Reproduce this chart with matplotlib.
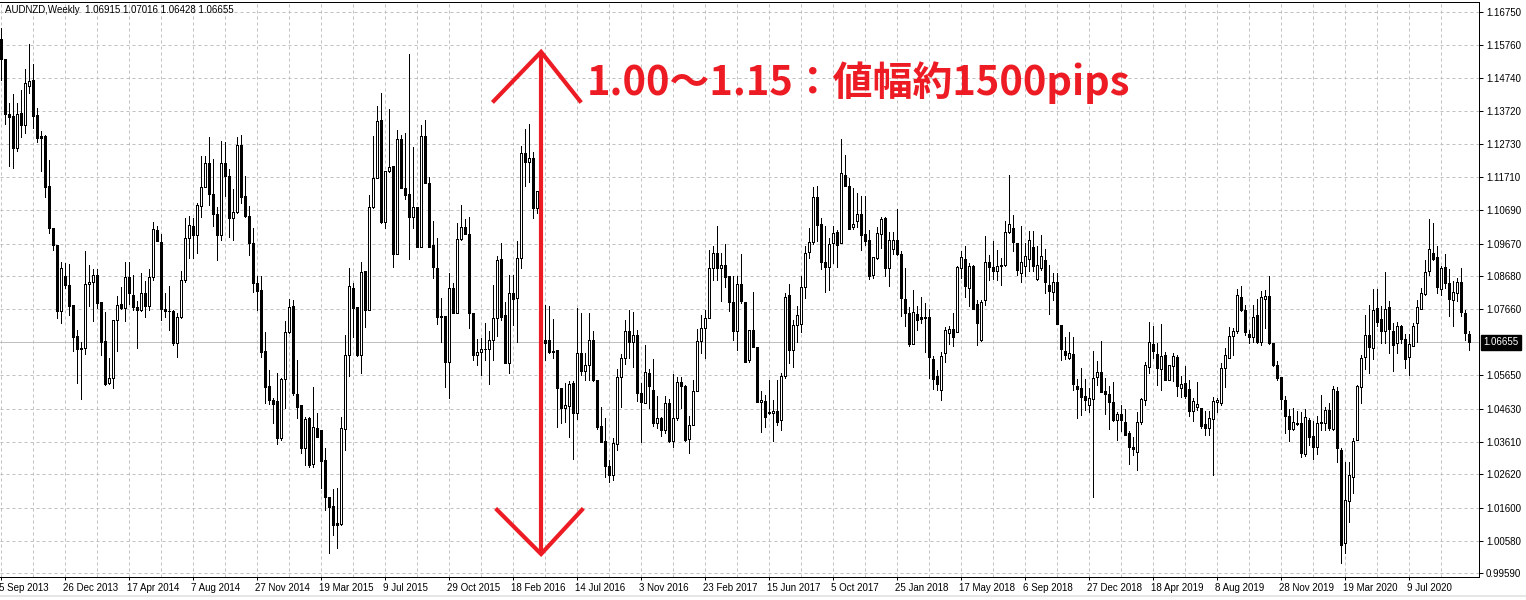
import matplotlib
matplotlib.use("Agg")
import matplotlib.pyplot as plt
import matplotlib.transforms as mtransforms
import matplotlib.patches as mpatches
import numpy as np

plt.rcParams['font.family'] = ['Liberation Sans', 'DejaVu Sans']

# --- Weekly AUDNZD candles, one value per week ---
opens = [
    1.1594, 1.1532, 1.1363, 1.1358, 1.1259, 1.1366, 1.1329, 1.1451, 1.1468, 1.1361,
    1.1297, 1.1297, 1.1144, 1.1015, 1.0964, 1.0760, 1.0869, 1.0841, 1.0780, 1.0685,
    1.0647, 1.0647, 1.0843, 1.0849, 1.0872, 1.0790, 1.0670, 1.0540, 1.0556, 1.0734,
    1.0783, 1.0770, 1.0864, 1.0811, 1.0775, 1.0765, 1.0816, 1.0778, 1.0865, 1.1009,
    1.0971, 1.0767, 1.0762, 1.0762, 1.0663, 1.0742, 1.0856, 1.0984, 1.1020, 1.0994,
    1.1083, 1.1142, 1.1215, 1.1118, 1.1057, 1.0994, 1.1213, 1.1175, 1.1045, 1.1063,
    1.1270, 1.1113, 1.1053, 1.0969, 1.0846, 1.0826, 1.0639, 1.0532, 1.0489, 1.0486,
    1.0372, 1.0552, 1.0696, 1.0777, 1.0509, 1.0474, 1.0341, 1.0433, 1.0292, 1.0405,
    1.0397, 1.0305, 1.0193, 1.0165, 1.0112, 1.0109, 1.0399, 1.0627, 1.0833, 1.0775,
    1.0627, 1.0884, 1.0764, 1.1079, 1.1167, 1.1346, 1.1033, 1.1190, 1.1205, 1.0935,
    1.1287, 1.1139, 1.1118, 1.1050, 1.1081, 1.0958, 1.1297, 1.1154, 1.0963, 1.0894,
    1.0746, 1.0746, 1.0606, 1.0831, 1.0754, 1.0981, 1.1017, 1.0997, 1.0754, 1.0627,
    1.0637, 1.0644, 1.0644, 1.0673, 1.0739, 1.0919, 1.0749, 1.0603, 1.0817, 1.0800,
    1.0923, 1.1244, 1.1218, 1.1229, 1.1076, 1.1127, 1.0673, 1.0673, 1.0639, 1.0642,
    1.0527, 1.0464, 1.0471, 1.0540, 1.0448, 1.0632, 1.0579, 1.0596, 1.0673, 1.0551,
    1.0410, 1.0364, 1.0286, 1.0260, 1.0354, 1.0559, 1.0617, 1.0701, 1.0668, 1.0689,
    1.0510, 1.0480, 1.0571, 1.0520, 1.0418, 1.0434, 1.0396, 1.0480, 1.0365, 1.0434,
    1.0544, 1.0531, 1.0369, 1.0413, 1.0517, 1.0669, 1.0709, 1.0740, 1.0893, 1.0939,
    1.0893, 1.0903, 1.0867, 1.0788, 1.0699, 1.0844, 1.0789, 1.0612, 1.0704, 1.0651,
    1.0482, 1.0485, 1.0452, 1.0449, 1.0456, 1.0427, 1.0563, 1.0811, 1.0641, 1.0719,
    1.0721, 1.0835, 1.0941, 1.0971, 1.1110, 1.1027, 1.0910, 1.0896, 1.0969, 1.1002,
    1.0969, 1.1176, 1.1145, 1.1018, 1.1036, 1.1058, 1.0997, 1.0979, 1.0870, 1.0925,
    1.0998, 1.1046, 1.0893, 1.0951, 1.0978, 1.0937, 1.0799, 1.0755, 1.0661, 1.0753,
    1.0742, 1.0742, 1.0742, 1.0616, 1.0562, 1.0519, 1.0633, 1.0694, 1.0707, 1.0697,
    1.0893, 1.0919, 1.0832, 1.0900, 1.0784, 1.0674, 1.0794, 1.0911, 1.0895, 1.0885,
    1.0899, 1.0901, 1.1003, 1.1016, 1.0968, 1.0878, 1.0898, 1.0921, 1.0957, 1.0860,
    1.0893, 1.0917, 1.0842, 1.0820, 1.0850, 1.0718, 1.0638, 1.0618, 1.0631, 1.0533,
    1.0526, 1.0501, 1.0475, 1.0492, 1.0560, 1.0575, 1.0518, 1.0508, 1.0483, 1.0429,
    1.0446, 1.0422, 1.0388, 1.0344, 1.0330, 1.0421, 1.0490, 1.0590, 1.0659, 1.0631,
    1.0584, 1.0626, 1.0551, 1.0592, 1.0621, 1.0526, 1.0541, 1.0523, 1.0454, 1.0467,
    1.0464, 1.0416, 1.0403, 1.0431, 1.0482, 1.0481, 1.0587, 1.0617, 1.0685, 1.0701,
    1.0804, 1.0765, 1.0691, 1.0683, 1.0750, 1.0668, 1.0798, 1.0808, 1.0665, 1.0597,
    1.0558, 1.0490, 1.0441, 1.0400, 1.0420, 1.0420, 1.0324, 1.0428, 1.0379, 1.0344,
    1.0418, 1.0418, 1.0459, 1.0400, 1.0517, 1.0337, 1.0051, 1.0179, 1.0253, 1.0367,
    1.0528, 1.0620, 1.0688, 1.0648, 1.0770, 1.0736, 1.0699, 1.0773, 1.0699, 1.0663,
    1.0716, 1.0675, 1.0622, 1.0655, 1.0724, 1.0767, 1.0814, 1.0885, 1.0940, 1.0926,
    1.0829, 1.0896, 1.0847, 1.0796, 1.0816, 1.0849, 1.0755, 1.06915,
]
highs = [
    1.1627, 1.1532, 1.1397, 1.1426, 1.1397, 1.1438, 1.1501, 1.1579, 1.1517, 1.1382,
    1.1312, 1.1300, 1.1224, 1.1015, 1.0964, 1.0911, 1.0907, 1.0905, 1.0780, 1.0703,
    1.0668, 1.0945, 1.0902, 1.0889, 1.0889, 1.0790, 1.0758, 1.0617, 1.0734, 1.0807,
    1.0836, 1.0911, 1.0911, 1.0870, 1.0792, 1.0879, 1.0853, 1.0889, 1.1034, 1.1022,
    1.0996, 1.0816, 1.0838, 1.0765, 1.0754, 1.0885, 1.1047, 1.1052, 1.1047, 1.1093,
    1.1236, 1.1234, 1.1293, 1.1226, 1.1079, 1.1280, 1.1277, 1.1195, 1.1134, 1.1295,
    1.1299, 1.1175, 1.1083, 1.1015, 1.0869, 1.0867, 1.0696, 1.0581, 1.0494, 1.0571,
    1.0556, 1.0731, 1.0797, 1.0795, 1.0611, 1.0474, 1.0438, 1.0438, 1.0530, 1.0450,
    1.0397, 1.0341, 1.0193, 1.0216, 1.0219, 1.0438, 1.0688, 1.0892, 1.0848, 1.0775,
    1.0912, 1.0884, 1.1116, 1.1297, 1.1389, 1.1427, 1.1190, 1.1378, 1.1205, 1.1315,
    1.1300, 1.1305, 1.1548, 1.1264, 1.1081, 1.1330, 1.1346, 1.1172, 1.1038, 1.0986,
    1.0800, 1.0746, 1.0879, 1.0848, 1.1030, 1.1086, 1.1042, 1.1048, 1.0754, 1.0675,
    1.0680, 1.0726, 1.0700, 1.0841, 1.0930, 1.0970, 1.0790, 1.0870, 1.0870, 1.0974,
    1.1266, 1.1317, 1.1334, 1.1249, 1.1127, 1.1137, 1.0780, 1.0777, 1.0736, 1.0642,
    1.0527, 1.0540, 1.0547, 1.0547, 1.0770, 1.0754, 1.0632, 1.0754, 1.0701, 1.0551,
    1.0467, 1.0434, 1.0306, 1.0373, 1.0584, 1.0631, 1.0735, 1.0765, 1.0757, 1.0702,
    1.0541, 1.0658, 1.0584, 1.0614, 1.0502, 1.0437, 1.0502, 1.0492, 1.0569, 1.0561,
    1.0559, 1.0536, 1.0439, 1.0551, 1.0706, 1.0750, 1.0765, 1.0949, 1.0961, 1.1020,
    1.0939, 1.0967, 1.0867, 1.0867, 1.0867, 1.0936, 1.0789, 1.0704, 1.0819, 1.0651,
    1.0518, 1.0505, 1.0551, 1.0488, 1.0551, 1.0573, 1.0816, 1.0844, 1.0735, 1.0778,
    1.0869, 1.0959, 1.1015, 1.1141, 1.1145, 1.1046, 1.1020, 1.0984, 1.1022, 1.1010,
    1.1287, 1.1240, 1.1168, 1.1138, 1.1122, 1.1112, 1.1114, 1.1008, 1.0928, 1.1018,
    1.1049, 1.1049, 1.1002, 1.1002, 1.1072, 1.0944, 1.0893, 1.0773, 1.0827, 1.0778,
    1.0803, 1.0786, 1.0766, 1.0623, 1.0582, 1.0635, 1.0713, 1.0715, 1.0755, 1.0900,
    1.0946, 1.0961, 1.0908, 1.0903, 1.0794, 1.0794, 1.0992, 1.0934, 1.0975, 1.0949,
    1.0924, 1.1036, 1.1176, 1.1056, 1.0970, 1.1021, 1.0968, 1.1007, 1.1005, 1.0959,
    1.0995, 1.0952, 1.0901, 1.0878, 1.0878, 1.0718, 1.0681, 1.0697, 1.0682, 1.0553,
    1.0587, 1.0553, 1.0526, 1.0638, 1.0608, 1.0669, 1.0557, 1.0533, 1.0544, 1.0451,
    1.0475, 1.0462, 1.0395, 1.0376, 1.0451, 1.0495, 1.0604, 1.0727, 1.0715, 1.0664,
    1.0723, 1.0636, 1.0597, 1.0633, 1.0628, 1.0562, 1.0592, 1.0551, 1.0495, 1.0544,
    1.0464, 1.0457, 1.0454, 1.0497, 1.0495, 1.0602, 1.0648, 1.0712, 1.0709, 1.0829,
    1.0838, 1.0780, 1.0704, 1.0780, 1.0798, 1.0823, 1.0826, 1.0867, 1.0665, 1.0607,
    1.0558, 1.0500, 1.0461, 1.0464, 1.0454, 1.0451, 1.0462, 1.0433, 1.0426, 1.0439,
    1.0505, 1.0469, 1.0479, 1.0532, 1.0530, 1.0342, 1.0299, 1.0301, 1.0372, 1.0536,
    1.0627, 1.0750, 1.0780, 1.0828, 1.0828, 1.0777, 1.0881, 1.0791, 1.0726, 1.0729,
    1.0719, 1.0692, 1.0692, 1.0724, 1.0794, 1.0831, 1.0918, 1.1042, 1.1032, 1.0959,
    1.0898, 1.0936, 1.0889, 1.0852, 1.0862, 1.0893, 1.0765, 1.07016,
]
lows = [
    1.1468, 1.1332, 1.1206, 1.1200, 1.1252, 1.1295, 1.1305, 1.1428, 1.1322, 1.1278,
    1.1191, 1.1111, 1.0999, 1.0948, 1.0741, 1.0726, 1.0831, 1.0749, 1.0639, 1.0540,
    1.0491, 1.0629, 1.0778, 1.0731, 1.0770, 1.0627, 1.0535, 1.0537, 1.0527, 1.0639,
    1.0767, 1.0731, 1.0783, 1.0765, 1.0647, 1.0762, 1.0744, 1.0765, 1.0856, 1.0974,
    1.0734, 1.0744, 1.0703, 1.0658, 1.0622, 1.0739, 1.0851, 1.0923, 1.0923, 1.0940,
    1.1050, 1.1142, 1.1086, 1.1020, 1.0916, 1.0979, 1.1113, 1.0989, 1.0979, 1.1060,
    1.1093, 1.1050, 1.0933, 1.0821, 1.0765, 1.0622, 1.0479, 1.0476, 1.0418, 1.0354,
    1.0367, 1.0466, 1.0693, 1.0505, 1.0433, 1.0328, 1.0290, 1.0283, 1.0285, 1.0375,
    1.0219, 1.0154, 1.0020, 1.0076, 1.0037, 1.0107, 1.0336, 1.0562, 1.0683, 1.0624,
    1.0573, 1.0711, 1.0764, 1.1076, 1.1167, 1.1030, 1.1016, 1.1188, 1.0895, 1.0935,
    1.1137, 1.1104, 1.0919, 1.1014, 1.0958, 1.0958, 1.1152, 1.0958, 1.0861, 1.0722,
    1.0668, 1.0528, 1.0494, 1.0754, 1.0754, 1.0979, 1.0997, 1.0708, 1.0611, 1.0596,
    1.0565, 1.0611, 1.0538, 1.0613, 1.0685, 1.0734, 1.0603, 1.0571, 1.0719, 1.0668,
    1.0892, 1.1144, 1.1157, 1.1045, 1.1062, 1.0662, 1.0611, 1.0632, 1.0617, 1.0407,
    1.0420, 1.0423, 1.0377, 1.0310, 1.0430, 1.0566, 1.0550, 1.0550, 1.0546, 1.0401,
    1.0362, 1.0255, 1.0239, 1.0245, 1.0337, 1.0467, 1.0599, 1.0617, 1.0590, 1.0485,
    1.0362, 1.0480, 1.0464, 1.0410, 1.0405, 1.0378, 1.0388, 1.0362, 1.0344, 1.0429,
    1.0464, 1.0365, 1.0327, 1.0413, 1.0517, 1.0633, 1.0617, 1.0740, 1.0857, 1.0855,
    1.0791, 1.0835, 1.0760, 1.0673, 1.0641, 1.0786, 1.0605, 1.0604, 1.0651, 1.0482,
    1.0390, 1.0406, 1.0446, 1.0365, 1.0413, 1.0398, 1.0556, 1.0602, 1.0590, 1.0668,
    1.0696, 1.0801, 1.0923, 1.0967, 1.0977, 1.0890, 1.0821, 1.0826, 1.0908, 1.0895,
    1.0969, 1.1145, 1.1013, 1.1013, 1.1018, 1.0947, 1.0962, 1.0859, 1.0862, 1.0921,
    1.0954, 1.0867, 1.0837, 1.0937, 1.0934, 1.0745, 1.0715, 1.0655, 1.0659, 1.0702,
    1.0725, 1.0635, 1.0557, 1.0524, 1.0521, 1.0488, 1.0606, 1.0659, 1.0655, 1.0697,
    1.0862, 1.0804, 1.0776, 1.0766, 1.0656, 1.0669, 1.0781, 1.0855, 1.0860, 1.0857,
    1.0840, 1.0898, 1.1000, 1.0944, 1.0870, 1.0849, 1.0868, 1.0883, 1.0883, 1.0855,
    1.0888, 1.0817, 1.0753, 1.0794, 1.0722, 1.0611, 1.0616, 1.0616, 1.0521, 1.0434,
    1.0442, 1.0460, 1.0451, 1.0191, 1.0536, 1.0513, 1.0447, 1.0400, 1.0424, 1.0368,
    1.0393, 1.0383, 1.0294, 1.0322, 1.0276, 1.0417, 1.0475, 1.0572, 1.0618, 1.0534,
    1.0521, 1.0549, 1.0549, 1.0548, 1.0500, 1.0497, 1.0495, 1.0439, 1.0426, 1.0459,
    1.0403, 1.0383, 1.0383, 1.0260, 1.0451, 1.0474, 1.0530, 1.0617, 1.0627, 1.0694,
    1.0760, 1.0689, 1.0663, 1.0668, 1.0665, 1.0658, 1.0709, 1.0661, 1.0592, 1.0551,
    1.0461, 1.0388, 1.0365, 1.0398, 1.0413, 1.0316, 1.0318, 1.0352, 1.0308, 1.0324,
    1.0396, 1.0398, 1.0398, 1.0398, 1.0301, 0.9992, 1.0020, 1.0117, 1.0204, 1.0367,
    1.0481, 1.0583, 1.0573, 1.0614, 1.0714, 1.0665, 1.0665, 1.0634, 1.0579, 1.0632,
    1.0663, 1.0587, 1.0566, 1.0653, 1.0668, 1.0767, 1.0811, 1.0872, 1.0918, 1.0816,
    1.0811, 1.0831, 1.0747, 1.0714, 1.0791, 1.0745, 1.0673, 1.06428,
]
closes = [
    1.1532, 1.1363, 1.1356, 1.1259, 1.1363, 1.1329, 1.1458, 1.1465, 1.1359, 1.1292,
    1.1292, 1.1142, 1.1015, 1.0962, 1.0760, 1.0892, 1.0841, 1.0778, 1.0683, 1.0644,
    1.0644, 1.0843, 1.0849, 1.0872, 1.0787, 1.0668, 1.0537, 1.0556, 1.0734, 1.0780,
    1.0770, 1.0864, 1.0816, 1.0773, 1.0763, 1.0816, 1.0778, 1.0865, 1.1011, 1.0974,
    1.0767, 1.0760, 1.0760, 1.0663, 1.0744, 1.0856, 1.0984, 1.1023, 1.0994, 1.1086,
    1.1142, 1.1215, 1.1118, 1.1057, 1.0994, 1.1213, 1.1173, 1.1045, 1.1063, 1.1270,
    1.1111, 1.1053, 1.0969, 1.0846, 1.0824, 1.0637, 1.0530, 1.0489, 1.0476, 1.0372,
    1.0552, 1.0696, 1.0773, 1.0510, 1.0469, 1.0341, 1.0430, 1.0290, 1.0407, 1.0377,
    1.0303, 1.0191, 1.0163, 1.0107, 1.0107, 1.0402, 1.0627, 1.0838, 1.0770, 1.0627,
    1.0882, 1.0764, 1.1081, 1.1167, 1.1343, 1.1035, 1.1190, 1.1203, 1.0935, 1.1287,
    1.1137, 1.1116, 1.1050, 1.1079, 1.0958, 1.1297, 1.1152, 1.0958, 1.0897, 1.0742,
    1.0742, 1.0606, 1.0831, 1.0754, 1.0981, 1.1017, 1.0997, 1.0754, 1.0627, 1.0637,
    1.0644, 1.0645, 1.0673, 1.0739, 1.0917, 1.0744, 1.0603, 1.0817, 1.0797, 1.0923,
    1.1244, 1.1218, 1.1229, 1.1076, 1.1127, 1.0675, 1.0664, 1.0637, 1.0635, 1.0525,
    1.0464, 1.0474, 1.0537, 1.0448, 1.0632, 1.0579, 1.0596, 1.0673, 1.0551, 1.0408,
    1.0362, 1.0286, 1.0260, 1.0357, 1.0559, 1.0617, 1.0701, 1.0668, 1.0689, 1.0510,
    1.0482, 1.0574, 1.0531, 1.0418, 1.0434, 1.0396, 1.0480, 1.0365, 1.0434, 1.0544,
    1.0531, 1.0367, 1.0413, 1.0517, 1.0669, 1.0709, 1.0740, 1.0893, 1.0939, 1.0893,
    1.0903, 1.0865, 1.0788, 1.0699, 1.0844, 1.0791, 1.0605, 1.0704, 1.0651, 1.0482,
    1.0490, 1.0437, 1.0449, 1.0456, 1.0423, 1.0563, 1.0804, 1.0641, 1.0719, 1.0750,
    1.0835, 1.0939, 1.0971, 1.1110, 1.1023, 1.0910, 1.0896, 1.0966, 1.1000, 1.0964,
    1.1183, 1.1145, 1.1013, 1.1027, 1.1058, 1.0993, 1.0977, 1.0867, 1.0926, 1.1000,
    1.1043, 1.0893, 1.0978, 1.0978, 1.0937, 1.0801, 1.0755, 1.0659, 1.0758, 1.0735,
    1.0737, 1.0740, 1.0621, 1.0553, 1.0538, 1.0625, 1.0704, 1.0707, 1.0681, 1.0895,
    1.0927, 1.0837, 1.0898, 1.0766, 1.0725, 1.0789, 1.0911, 1.0896, 1.0885, 1.0900,
    1.0901, 1.1003, 1.1026, 1.0972, 1.0886, 1.0911, 1.0931, 1.0980, 1.0898, 1.0903,
    1.0931, 1.0850, 1.0822, 1.0850, 1.0722, 1.0646, 1.0626, 1.0634, 1.0538, 1.0523,
    1.0497, 1.0488, 1.0495, 1.0557, 1.0575, 1.0513, 1.0509, 1.0482, 1.0427, 1.0447,
    1.0427, 1.0383, 1.0345, 1.0339, 1.0421, 1.0492, 1.0597, 1.0667, 1.0638, 1.0587,
    1.0625, 1.0551, 1.0597, 1.0625, 1.0531, 1.0538, 1.0500, 1.0457, 1.0487, 1.0476,
    1.0410, 1.0405, 1.0433, 1.0487, 1.0490, 1.0587, 1.0627, 1.0685, 1.0701, 1.0811,
    1.0763, 1.0696, 1.0683, 1.0743, 1.0668, 1.0804, 1.0808, 1.0663, 1.0597, 1.0556,
    1.0492, 1.0441, 1.0400, 1.0423, 1.0416, 1.0326, 1.0437, 1.0377, 1.0344, 1.0420,
    1.0422, 1.0459, 1.0403, 1.0522, 1.0342, 1.0046, 1.0184, 1.0260, 1.0365, 1.0532,
    1.0617, 1.0688, 1.0651, 1.0765, 1.0729, 1.0699, 1.0767, 1.0707, 1.0658, 1.0714,
    1.0675, 1.0614, 1.0661, 1.0714, 1.0773, 1.0816, 1.0882, 1.0951, 1.0920, 1.0834,
    1.0892, 1.0847, 1.0798, 1.0820, 1.0849, 1.0758, 1.0694, 1.06655,
]

# date label every 16 bars
date_labels = ["5 Sep 2013", "26 Dec 2013", "17 Apr 2014", "7 Aug 2014", "27 Nov 2014",
               "19 Mar 2015", "9 Jul 2015", "29 Oct 2015", "18 Feb 2016", "14 Jul 2016",
               "3 Nov 2016", "23 Feb 2017", "15 Jun 2017", "5 Oct 2017", "25 Jan 2018",
               "17 May 2018", "6 Sep 2018", "27 Dec 2018", "18 Apr 2019", "8 Aug 2019",
               "28 Nov 2019", "19 Mar 2020", "9 Jul 2020"]
price_ticks = [0.99590, 1.00580, 1.01600, 1.02620, 1.03610, 1.04630, 1.05650,
               1.07660, 1.08680, 1.09670, 1.10690, 1.11710, 1.12730, 1.13720,
               1.14740, 1.15760, 1.16750]
last_price = 1.06655
header = "AUDNZD,Weekly  1.06915 1.07016 1.06428 1.06655"

# annotation: range 1.00 - 1.15
range_top = 1.1554
range_bottom = 1.0018
range_text = "1.00～1.15：値幅約1500pips"

RED = '#ed1c24'
GRID = '#c0c0c0'
LW = 0.72  # one pixel at 100 dpi

o = np.array(opens)
h = np.array(highs)
l = np.array(lows)
c = np.array(closes)
x = np.arange(len(c))
up = c >= o

fig = plt.figure(figsize=(15.26, 6.0), dpi=100)
ax = fig.add_axes([0, 23 / 600, 1479 / 1526, 575.5 / 600])
ax.set_xlim(-0.175, 369.575)
ax.set_ylim(0.99477, 1.17081)

# grid
ax.set_xticks(np.arange(0, len(c), 16))
ax.set_xticks(np.arange(8, len(c), 16), minor=True)
ax.set_xticklabels(date_labels, ha='left')
ax.set_yticks(price_ticks)
ax.set_yticklabels([f"{v:.5f}" for v in price_ticks])
ax.grid(True, which='both', color=GRID, linestyle=(0, (3, 3)), linewidth=LW, zorder=0)
ax.set_axisbelow(True)

ax.yaxis.tick_right()
ax.tick_params(axis='y', which='both', direction='out', length=3, width=LW, pad=2, labelsize=7)
ax.tick_params(axis='x', which='major', direction='out', length=2.5, width=LW, pad=2, labelsize=7)
ax.tick_params(axis='x', which='minor', length=0)
for spine in ['top', 'right', 'bottom']:
    ax.spines[spine].set_linewidth(LW)
    ax.spines[spine].set_color('black')
ax.spines['left'].set_visible(False)

shift = mtransforms.ScaledTranslation(-2 / 100, 0, fig.dpi_scale_trans)
for lab in ax.get_xticklabels():
    lab.set_transform(lab.get_transform() + shift)

# current price line
ax.axhline(last_price, color=GRID, linewidth=LW, zorder=1)

# candles
ax.vlines(x, l, h, color='black', linewidth=LW, antialiased=False, zorder=2)
ax.bar(x[up], (c - o)[up], bottom=o[up], width=0.5, facecolor='white',
       edgecolor='black', linewidth=LW, antialiased=False, zorder=3)
ax.bar(x[~up], (o - c)[~up], bottom=c[~up], width=0.5, facecolor='black',
       edgecolor='black', linewidth=LW, antialiased=False, zorder=3)

# price box on the right axis
box_tr = mtransforms.blended_transform_factory(ax.transAxes, ax.transData)
box_tr = box_tr + mtransforms.ScaledTranslation(4 / 100, 0, fig.dpi_scale_trans)
ax.text(1.0, last_price, f"{last_price:.5f}", transform=box_tr, ha='left', va='center',
        fontsize=7, color='white', clip_on=False, zorder=6,
        bbox=dict(boxstyle='square,pad=0.25', facecolor='black', edgecolor='black'))

# header text
fig.text(5 / 1526, 1 - 10 / 600, header, ha='left', va='center', fontsize=7, color='black')

# light window border at the bottom
fig.patches.append(mpatches.Rectangle((0, 3 / 600), 1, 2 / 600, transform=fig.transFigure,
                                      facecolor='#e6e6e6', edgecolor='none'))

# red double arrow
xa = 135.1
ax.plot([xa, xa], [range_bottom, range_top], color=RED, linewidth=3, solid_capstyle='butt', zorder=5)
ax.plot([123.3, xa, 144.8], [1.1404, range_top, 1.1404], color=RED, linewidth=3,
        solid_joinstyle='miter', zorder=5)
ax.plot([124.1, xa, 145.3], [1.0153, range_bottom, 1.0153], color=RED, linewidth=3,
        solid_joinstyle='miter', zorder=5)
ax.text(146.6, 1.1459, range_text, ha='left', va='center', fontsize=28.7, fontweight='bold',
        color=RED, family=['Noto Sans CJK JP', 'DejaVu Sans'], zorder=6)

fig.savefig("out.png", dpi=100)
